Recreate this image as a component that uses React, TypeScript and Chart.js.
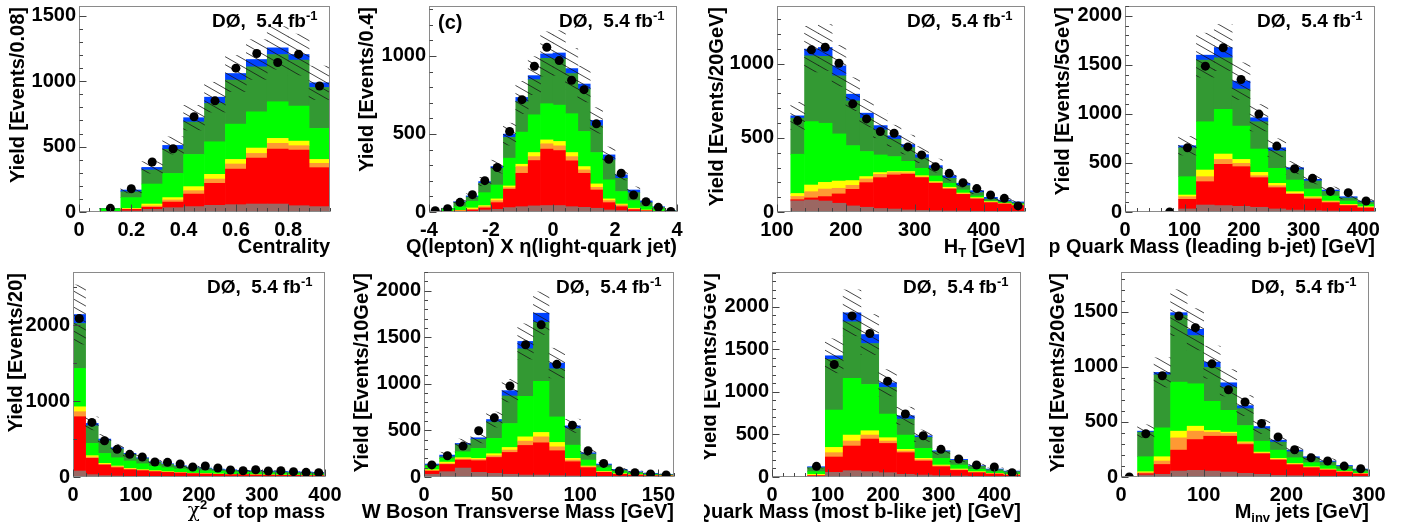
import React, { useEffect, useRef } from 'react';
import { Chart, registerables } from 'chart.js';

Chart.register(...registerables);

const SANS = '"Liberation Sans", Arial, Helvetica, sans-serif';
const SERIF = '"DejaVu Serif", "Liberation Serif", serif';

// Stack components, bottom to top
const COMP_NAMES = ['Dibosons + Z+jets', 'ttbar', 'W+cc', 'W+bb', 'W+lf', 'Multijets', 'tb+tqb'];
const COMP_COLORS = ['#9b6762', '#ff0000', '#ff9933', '#ffff00', '#00ff00', '#339933', '#0042ff'];

// ---------------- Panel 1: Centrality ----------------
const p1Centers = [0.04, 0.12, 0.2, 0.28, 0.36, 0.44, 0.52, 0.6, 0.68, 0.76, 0.84, 0.92];
const p1Brown = [0, 1, 8, 20, 33, 41, 51, 56, 61, 61, 48, 41];
const p1Red = [0, 2, 12, 16, 43, 96, 168, 272, 352, 420, 426, 298];
const p1Orange = [0, 1, 3, 10, 16, 26, 33, 39, 35, 44, 33, 33];
const p1Yellow = [0, 1, 5, 15, 18, 31, 36, 35, 41, 38, 35, 30];
const p1Green = [0, 19, 82, 153, 185, 246, 249, 270, 277, 280, 268, 237];
const p1DkGreen = [0, 3, 45, 107, 184, 248, 293, 336, 344, 361, 351, 313];
const p1Blue = [0, 1, 13, 20, 30, 33, 48, 51, 56, 51, 43, 36];
const p1Data = [null, 28, 178, 382, 484, 728, 850, 1100, 1212, 1143, 1207, 963];
const p1Unc = [0, 4, 22, 44, 66, 94, 114, 138, 152, 163, 157, 128];
const p1XTicks = [0, 0.2, 0.4, 0.6, 0.8];
const p1XLabels = ['0', '0.2', '0.4', '0.6', '0.8'];
const p1YTicks = [0, 500, 1000, 1500];
const p1YLabels = ['0', '500', '1000', '1500'];

// ---------------- Panel 2: Q(lepton) x eta ----------------
const p2Centers = [-3.8, -3.4, -3.0, -2.6, -2.2, -1.8, -1.4, -1.0, -0.6, -0.2, 0.2, 0.6, 1.0, 1.4, 1.8, 2.2, 2.6, 3.0, 3.4, 3.8];
const p2Brown = [0, 1, 3, 5, 13, 17, 28, 34, 39, 41, 41, 34, 30, 24, 13, 9, 5, 3, 1, 0];
const p2Red = [1, 1, 3, 8, 13, 43, 118, 214, 291, 362, 353, 294, 218, 117, 47, 25, 10, 5, 2, 1];
const p2Orange = [0, 1, 2, 5, 8, 13, 10, 43, 25, 34, 30, 27, 22, 17, 13, 11, 4, 2, 1, 0];
const p2Yellow = [0, 1, 2, 8, 7, 11, 11, 15, 26, 25, 28, 26, 21, 22, 11, 6, 5, 3, 1, 1];
const p2Green = [3, 13, 24, 43, 83, 89, 178, 206, 242, 232, 233, 249, 225, 201, 122, 80, 49, 21, 12, 3];
const p2DkGreen = [1, 6, 28, 27, 60, 107, 133, 195, 225, 291, 296, 257, 272, 171, 128, 85, 51, 26, 13, 2];
const p2Blue = [0, 1, 4, 7, 11, 11, 21, 27, 26, 28, 38, 32, 32, 35, 32, 22, 17, 11, 4, 1];
const p2Data = [8, 21, 62, 111, 201, 285, 516, 720, 934, 1056, 970, 844, 784, 565, 338, 248, 109, 66, 30, 4];
const p2Unc = [1, 3, 9, 14, 27, 41, 70, 103, 122, 142, 143, 129, 115, 82, 51, 33, 20, 10, 5, 1];
const p2XTicks = [-4, -2, 0, 2, 4];
const p2XLabels = ['-4', '-2', '0', '2', '4'];
const p2YTicks = [0, 500, 1000];
const p2YLabels = ['0', '500', '1000'];

// ---------------- Panel 3: H_T ----------------
const p3Centers = [130, 150, 170, 190, 210, 230, 250, 270, 290, 310, 330, 350, 370, 390, 410, 430, 450];
const p3Brown = [75, 81, 74, 59, 41, 32, 23, 20, 14, 11, 9, 7, 7, 5, 4, 3, 2];
const p3Red = [8, 14, 30, 63, 112, 166, 209, 230, 241, 221, 185, 148, 112, 83, 59, 51, 41];
const p3Orange = [22, 42, 51, 38, 27, 25, 22, 16, 9, 4, 4, 5, 3, 4, 3, 2, 2];
const p3Yellow = [20, 45, 45, 49, 32, 16, 12, 7, 9, 9, 7, 7, 6, 5, 4, 3, 3];
const p3Green = [265, 428, 399, 318, 236, 169, 119, 101, 69, 50, 38, 27, 21, 11, 4, 4, 6];
const p3DkGreen = [243, 444, 451, 392, 302, 225, 169, 117, 93, 70, 52, 33, 29, 23, 14, 9, 7];
const p3Blue = [16, 45, 60, 67, 45, 34, 29, 23, 20, 22, 18, 18, 16, 13, 11, 9, 7];
const p3Data = [617, 1094, 1112, 1004, 730, 628, 543, 531, 439, 385, 306, 261, 198, 158, 115, 92, 41];
const p3Unc = [91, 154, 155, 138, 111, 93, 82, 72, 64, 54, 44, 34, 27, 20, 14, 11, 10];
const p3XTicks = [100, 200, 300, 400];
const p3XLabels = ['100', '200', '300', '400'];
const p3YTicks = [0, 500, 1000];
const p3YLabels = ['0', '500', '1000'];

// ---------------- Panel 4: Top quark mass (leading b-jet) ----------------
const p4Centers = [15, 45, 75, 105, 135, 165, 195, 225, 255, 285, 315, 345, 375, 405];
const p4Brown = [0, 0, 0, 31, 71, 65, 58, 48, 31, 20, 14, 10, 7, 7];
const p4Red = [0, 0, 0, 98, 238, 421, 404, 302, 217, 160, 118, 85, 58, 34];
const p4Orange = [0, 0, 0, 27, 51, 50, 34, 20, 20, 10, 14, 10, 6, 7];
const p4Yellow = [0, 0, 0, 17, 68, 55, 40, 34, 24, 17, 10, 7, 7, 6];
const p4Green = [0, 0, 0, 187, 492, 455, 340, 238, 153, 119, 78, 51, 34, 24];
const p4DkGreen = [0, 0, 0, 295, 628, 526, 377, 278, 176, 105, 82, 47, 31, 24];
const p4Blue = [0, 0, 0, 21, 51, 105, 81, 41, 34, 21, 17, 14, 13, 10];
const p4Data = [null, null, 0, 655, 1487, 1674, 1351, 998, 672, 441, 343, 210, 197, 112];
const p4Unc = [0, 0, 0, 95, 224, 235, 187, 135, 92, 63, 47, 31, 22, 16];
const p4XTicks = [0, 100, 200, 300, 400];
const p4XLabels = ['0', '100', '200', '300', '400'];
const p4YTicks = [0, 500, 1000, 1500, 2000];
const p4YLabels = ['0', '500', '1000', '1500', '2000'];

// ---------------- Panel 5: chi2 of top mass ----------------
const p5Centers = [10, 30, 50, 70, 90, 110, 130, 150, 170, 190, 210, 230, 250, 270, 290, 310, 330, 350, 370, 390];
const p5Brown = [79, 31, 18, 13, 9, 8, 7, 6, 5, 5, 4, 4, 3, 3, 3, 3, 2, 2, 2, 2];
const p5Red = [715, 215, 140, 110, 87, 75, 63, 55, 48, 39, 35, 31, 28, 28, 23, 21, 20, 20, 16, 16];
const p5Orange = [66, 17, 9, 13, 9, 7, 6, 5, 4, 3, 3, 2, 2, 1, 2, 2, 2, 1, 2, 1];
const p5Yellow = [65, 18, 13, 9, 9, 6, 7, 4, 4, 3, 3, 3, 2, 2, 2, 2, 2, 2, 2, 2];
const p5Green = [505, 162, 131, 109, 97, 79, 62, 53, 44, 42, 38, 35, 31, 27, 27, 25, 22, 19, 17, 14];
const p5DkGreen = [592, 232, 167, 114, 87, 66, 48, 44, 35, 31, 27, 21, 22, 18, 18, 17, 18, 17, 18, 18];
const p5Blue = [118, 31, 22, 18, 13, 13, 9, 8, 9, 9, 8, 9, 8, 9, 8, 9, 9, 9, 9, 8];
const p5Data = [2088, 719, 478, 364, 298, 263, 197, 193, 171, 132, 145, 118, 92, 83, 96, 79, 83, 70, 61, 57];
const p5Unc = [390, 85, 60, 46, 37, 30, 24, 21, 18, 16, 14, 13, 12, 11, 10, 9, 9, 8, 8, 7];
const p5XTicks = [0, 100, 200, 300, 400];
const p5XLabels = ['0', '100', '200', '300', '400'];
const p5YTicks = [0, 1000, 2000];
const p5YLabels = ['0', '1000', '2000'];

// ---------------- Panel 6: W boson transverse mass ----------------
const p6Centers = [5, 15, 25, 35, 45, 55, 65, 75, 85, 95, 105, 115, 125, 135, 145, 155];
const p6Brown = [29, 57, 96, 50, 39, 29, 21, 21, 14, 11, 7, 4, 3, 2, 1, 1];
const p6Red = [35, 78, 86, 125, 171, 235, 318, 346, 268, 153, 93, 46, 26, 19, 13, 10];
const p6Orange = [4, 8, 11, 14, 18, 25, 46, 64, 42, 18, 9, 5, 3, 2, 1, 1];
const p6Yellow = [10, 17, 14, 11, 22, 28, 46, 47, 47, 18, 9, 5, 4, 2, 2, 1];
const p6Green = [40, 40, 64, 107, 164, 257, 435, 549, 274, 142, 64, 40, 21, 14, 8, 5];
const p6DkGreen = [10, 17, 75, 96, 178, 296, 510, 634, 517, 178, 64, 28, 18, 11, 7, 7];
const p6Blue = [11, 18, 14, 18, 25, 57, 79, 97, 61, 29, 14, 11, 7, 7, 7, 4];
const p6Data = [130, 228, 332, 496, 635, 977, 1419, 1633, 1209, 556, 282, 146, 64, 46, 32, 21];
const p6Unc = [18, 31, 47, 55, 80, 121, 189, 229, 159, 71, 34, 18, 11, 7, 5, 4];
const p6XTicks = [0, 50, 100, 150];
const p6XLabels = ['0', '50', '100', '150'];
const p6YTicks = [0, 500, 1000, 1500, 2000];
const p6YLabels = ['0', '500', '1000', '1500', '2000'];

// ---------------- Panel 7: Top quark mass (most b-like jet) ----------------
const p7Centers = [80, 112, 144, 176, 208, 240, 272, 304, 336, 368, 400, 432];
const p7Brown = [8, 55, 74, 63, 51, 31, 23, 16, 12, 8, 6, 5];
const p7Red = [8, 180, 290, 383, 344, 255, 165, 105, 66, 43, 29, 18];
const p7Orange = [4, 51, 59, 47, 28, 19, 16, 10, 8, 6, 4, 3];
const p7Yellow = [11, 62, 70, 51, 39, 20, 15, 10, 8, 6, 4, 3];
const p7Green = [32, 439, 666, 544, 278, 168, 118, 78, 47, 27, 20, 18];
const p7DkGreen = [47, 595, 665, 481, 313, 188, 129, 78, 55, 35, 23, 16];
const p7Blue = [11, 43, 106, 106, 55, 39, 19, 12, 11, 8, 8, 7];
const p7Data = [125, 1323, 1894, 1687, 1127, 740, 485, 325, 211, 141, 117, 51];
const p7Unc = [17, 200, 270, 235, 155, 101, 68, 43, 29, 19, 13, 10];
const p7XTicks = [0, 100, 200, 300, 400];
const p7XLabels = ['0', '100', '200', '300', '400'];
const p7YTicks = [0, 500, 1000, 1500, 2000];
const p7YLabels = ['0', '500', '1000', '1500', '2000'];

// ---------------- Panel 8: M_inv jets ----------------
const p8Centers = [10, 30, 50, 70, 90, 110, 130, 150, 170, 190, 210, 230, 250, 270, 290];
const p8Brown = [0, 18, 24, 54, 60, 54, 45, 33, 24, 15, 12, 9, 7, 5, 4];
const p8Red = [0, 12, 90, 190, 280, 316, 325, 262, 187, 139, 99, 75, 56, 40, 23];
const p8Orange = [0, 9, 31, 111, 76, 37, 25, 15, 6, 6, 6, 4, 4, 3, 3];
const p8Yellow = [0, 9, 39, 61, 45, 15, 12, 9, 9, 9, 6, 5, 5, 3, 3];
const p8Green = [0, 136, 262, 445, 385, 265, 198, 148, 99, 75, 52, 37, 30, 21, 15];
const p8DkGreen = [0, 223, 482, 603, 437, 307, 211, 153, 112, 72, 54, 42, 34, 24, 18];
const p8Blue = [0, 9, 21, 27, 57, 48, 39, 28, 21, 18, 15, 12, 9, 9, 6];
const p8Data = [0, 392, 919, 1461, 1355, 1027, 792, 681, 485, 364, 247, 175, 145, 99, 75];
const p8Unc = [0, 58, 133, 209, 188, 146, 120, 91, 64, 47, 34, 26, 20, 15, 10];
const p8XTicks = [0, 100, 200, 300];
const p8XLabels = ['0', '100', '200', '300'];
const p8YTicks = [0, 500, 1000, 1500];
const p8YLabels = ['0', '500', '1000', '1500'];

type Run = { t: string; size?: number; dy?: number; family?: string; weight?: string };

type PanelCfg = {
  centers: number[];
  comps: number[][];
  data: (number | null)[];
  unc: number[];
  xMin: number; xMax: number; yMax: number;
  xTicks: number[]; xLabels: string[]; xMinor: number;
  yTicks: number[]; yLabels: string[]; yMinor: number;
  xTitle: Run[]; yTitle: string; tag?: string;
};

const PANELS: PanelCfg[] = [
  { centers: p1Centers, comps: [p1Brown, p1Red, p1Orange, p1Yellow, p1Green, p1DkGreen, p1Blue], data: p1Data, unc: p1Unc,
    xMin: 0, xMax: 0.96, yMax: 1575, xTicks: p1XTicks, xLabels: p1XLabels, xMinor: 0.04, yTicks: p1YTicks, yLabels: p1YLabels, yMinor: 100,
    xTitle: [{ t: 'Centrality' }], yTitle: 'Yield [Events/0.08]' },
  { centers: p2Centers, comps: [p2Brown, p2Red, p2Orange, p2Yellow, p2Green, p2DkGreen, p2Blue], data: p2Data, unc: p2Unc,
    xMin: -4, xMax: 4, yMax: 1320, xTicks: p2XTicks, xLabels: p2XLabels, xMinor: 0.4, yTicks: p2YTicks, yLabels: p2YLabels, yMinor: 100,
    xTitle: [{ t: 'Q(lepton) X η(light-quark jet)' }], yTitle: 'Yield [Events/0.4]', tag: '(c)' },
  { centers: p3Centers, comps: [p3Brown, p3Red, p3Orange, p3Yellow, p3Green, p3DkGreen, p3Blue], data: p3Data, unc: p3Unc,
    xMin: 100, xMax: 460, yMax: 1390, xTicks: p3XTicks, xLabels: p3XLabels, xMinor: 20, yTicks: p3YTicks, yLabels: p3YLabels, yMinor: 100,
    xTitle: [{ t: 'H' }, { t: 'T', size: 13, dy: 6 }, { t: ' [GeV]' }], yTitle: 'Yield [Events/20GeV]' },
  { centers: p4Centers, comps: [p4Brown, p4Red, p4Orange, p4Yellow, p4Green, p4DkGreen, p4Blue], data: p4Data, unc: p4Unc,
    xMin: 0, xMax: 420, yMax: 2100, xTicks: p4XTicks, xLabels: p4XLabels, xMinor: 20, yTicks: p4YTicks, yLabels: p4YLabels, yMinor: 100,
    xTitle: [{ t: 'Top Quark Mass (leading b-jet) [GeV]' }], yTitle: 'Yield [Events/5GeV]' },
  { centers: p5Centers, comps: [p5Brown, p5Red, p5Orange, p5Yellow, p5Green, p5DkGreen, p5Blue], data: p5Data, unc: p5Unc,
    xMin: 0, xMax: 400, yMax: 2700, xTicks: p5XTicks, xLabels: p5XLabels, xMinor: 20, yTicks: p5YTicks, yLabels: p5YLabels, yMinor: 500,
    xTitle: [{ t: 'χ', family: SERIF, weight: 'normal' }, { t: '2', size: 13, dy: -7 }, { t: ' of top mass' }], yTitle: 'Yield [Events/20]' },
  { centers: p6Centers, comps: [p6Brown, p6Red, p6Orange, p6Yellow, p6Green, p6DkGreen, p6Blue], data: p6Data, unc: p6Unc,
    xMin: 0, xMax: 160, yMax: 2200, xTicks: p6XTicks, xLabels: p6XLabels, xMinor: 10, yTicks: p6YTicks, yLabels: p6YLabels, yMinor: 100,
    xTitle: [{ t: 'W Boson Transverse Mass [GeV]' }], yTitle: 'Yield [Events/10GeV]' },
  { centers: p7Centers, comps: [p7Brown, p7Red, p7Orange, p7Yellow, p7Green, p7DkGreen, p7Blue], data: p7Data, unc: p7Unc,
    xMin: 0, xMax: 448, yMax: 2410, xTicks: p7XTicks, xLabels: p7XLabels, xMinor: 20, yTicks: p7YTicks, yLabels: p7YLabels, yMinor: 100,
    xTitle: [{ t: 'Top Quark Mass (most b-like jet) [GeV]' }], yTitle: 'Yield [Events/5GeV]' },
  { centers: p8Centers, comps: [p8Brown, p8Red, p8Orange, p8Yellow, p8Green, p8DkGreen, p8Blue], data: p8Data, unc: p8Unc,
    xMin: 0, xMax: 300, yMax: 1860, xTicks: p8XTicks, xLabels: p8XLabels, xMinor: 20, yTicks: p8YTicks, yLabels: p8YLabels, yMinor: 100,
    xTitle: [{ t: 'M' }, { t: 'inv', size: 13, dy: 6 }, { t: ' jets [GeV]' }], yTitle: 'Yield [Events/20GeV]' },
];

// Page layout (canvas box + plot box, page pixels)
type Lay = { cx: number; cy: number; cw: number; ch: number; L: number; R: number; T: number; B: number; yTitleX: number };
const LAYOUT: Lay[] = [
  { cx: 0, cy: 0, cw: 352, ch: 265, L: 79, R: 330, T: 6, B: 212, yTitleX: 18 },
  { cx: 352, cy: 0, cw: 352, ch: 265, L: 429, R: 677, T: 6, B: 212, yTitleX: 367 },
  { cx: 704, cy: 0, cw: 352, ch: 265, L: 777, R: 1025, T: 6, B: 212, yTitleX: 717 },
  { cx: 1050, cy: 0, cw: 358, ch: 265, L: 1125, R: 1375, T: 6, B: 212, yTitleX: 1063 },
  { cx: 0, cy: 265, cw: 352, ch: 266, L: 73, R: 325, T: 272, B: 477, yTitleX: 16 },
  { cx: 352, cy: 265, cw: 352, ch: 266, L: 424, R: 674, T: 272, B: 477, yTitleX: 362 },
  { cx: 704, cy: 265, cw: 352, ch: 266, L: 772, R: 1021, T: 272, B: 477, yTitleX: 710 },
  { cx: 1036, cy: 265, cw: 372, ch: 266, L: 1121, R: 1369, T: 272, B: 477, yTitleX: 1058 },
];

function drawRuns(ctx: CanvasRenderingContext2D, runs: Run[], x: number, y: number, align: 'left' | 'right') {
  ctx.textBaseline = 'middle';
  ctx.textAlign = 'left';
  const fonts = runs.map((r) => `${r.weight ?? 'bold'} ${r.size ?? 20}px ${r.family ?? SANS}`);
  const widths = runs.map((r, i) => { ctx.font = fonts[i]; return ctx.measureText(r.t).width; });
  const total = widths.reduce((a, b) => a + b, 0);
  let px = align === 'right' ? x - total : x;
  runs.forEach((r, i) => {
    ctx.font = fonts[i];
    ctx.fillText(r.t, px, y + (r.dy ?? 0));
    px += widths[i];
  });
}

function makeHatch(ctx: CanvasRenderingContext2D): CanvasPattern | string {
  const c = document.createElement('canvas');
  const w = 14, h = 8;
  c.width = w; c.height = h;
  const g = c.getContext('2d');
  if (!g) return 'rgba(0,0,0,0.2)';
  g.strokeStyle = 'rgba(25,25,25,0.8)';
  g.lineWidth = 1;
  g.beginPath();
  for (const dy of [-h, 0, h]) {
    g.moveTo(-w, -h + dy);
    g.lineTo(2 * w, 2 * h + dy);
  }
  g.stroke();
  return ctx.createPattern(c, 'repeat') || 'rgba(0,0,0,0.2)';
}

function buildConfig(cfg: PanelCfg, lay: Lay, ctx: CanvasRenderingContext2D): any {
  const totals = cfg.centers.map((_, i) => cfg.comps.reduce((s, c) => s + c[i], 0));
  const hatch = makeHatch(ctx);
  const barCommon = { grouped: false, barPercentage: 1, categoryPercentage: 1, borderWidth: 0 };
  const datasets: any[] = [
    {
      type: 'scatter', label: 'Data',
      data: cfg.centers.map((x, i) => (cfg.data[i] == null ? null : { x, y: cfg.data[i] })).filter((p) => p !== null),
      pointRadius: 4.5, pointHoverRadius: 4.5, backgroundColor: '#000', borderColor: '#000', borderWidth: 0,
      order: 0, stack: 'data',
    },
    {
      type: 'bar', label: 'Uncertainty',
      data: cfg.centers.map((x, i) => ({ x, y: [totals[i] - cfg.unc[i], totals[i] + cfg.unc[i]] })),
      backgroundColor: hatch, ...barCommon, order: 1, stack: 'unc',
    },
    ...cfg.comps.map((comp, k) => ({
      type: 'bar', label: COMP_NAMES[k],
      data: cfg.centers.map((x, i) => ({ x, y: comp[i] })),
      backgroundColor: COMP_COLORS[k], ...barCommon, order: 2, stack: 'mc',
    })),
  ];

  const tickFont = { family: SANS, size: 20, weight: 'bold' as const };
  const zeroPad = (s: any) => { s.paddingLeft = 0; s.paddingRight = 0; s.paddingTop = 0; s.paddingBottom = 0; };

  const decor = {
    id: 'decor',
    afterDatasetsDraw(chart: any) {
      const c: CanvasRenderingContext2D = chart.ctx;
      const a = chart.chartArea;
      const xs = chart.scales.x;
      const ys = chart.scales.y;
      c.save();
      c.lineWidth = 1;
      c.strokeStyle = '#8a8a8a';
      const l = Math.round(a.left) + 0.5, r = Math.round(a.right) - 0.5;
      const t = Math.round(a.top) + 0.5, b = Math.round(a.bottom) - 0.5;
      c.strokeRect(l, t, r - l, b - t);
      c.strokeStyle = '#444';
      c.beginPath();
      const nx0 = Math.ceil(cfg.xMin / cfg.xMinor - 1e-6);
      const nx1 = Math.floor(cfg.xMax / cfg.xMinor + 1e-6);
      for (let n = nx0; n <= nx1; n++) {
        const v = n * cfg.xMinor;
        const major = cfg.xTicks.some((tv) => Math.abs(tv - v) < 1e-6);
        const len = major ? 7 : 3.5;
        const px = Math.round(xs.getPixelForValue(v)) + 0.5;
        c.moveTo(px, b); c.lineTo(px, b - len);
      }
      const ny1 = Math.floor(cfg.yMax / cfg.yMinor + 1e-6);
      for (let n = 0; n <= ny1; n++) {
        const v = n * cfg.yMinor;
        const major = cfg.yTicks.some((tv) => Math.abs(tv - v) < 1e-6);
        const len = major ? 7 : 3.5;
        const py = Math.round(ys.getPixelForValue(v)) + 0.5;
        c.moveTo(l, py); c.lineTo(l + len, py);
      }
      c.stroke();
      c.restore();
    },
    afterDraw(chart: any) {
      const c: CanvasRenderingContext2D = chart.ctx;
      const a = chart.chartArea;
      c.save();
      c.fillStyle = '#000';
      // x-axis title, right aligned at the end of the axis
      drawRuns(c, cfg.xTitle, a.right, a.bottom + 35, 'right');
      // y-axis title, rotated, ending at the top of the axis
      c.save();
      c.translate(lay.yTitleX - lay.cx, a.top + 1);
      c.rotate(-Math.PI / 2);
      c.font = `bold 20px ${SANS}`;
      c.textAlign = 'right';
      c.textBaseline = 'middle';
      c.fillText(cfg.yTitle, 0, 0);
      c.restore();
      // experiment label
      drawRuns(c, [{ t: 'DØ,  5.4 fb', size: 19 }, { t: '-1', size: 13, dy: -6 }], a.right - 118, a.top + 16, 'left');
      if (cfg.tag) drawRuns(c, [{ t: cfg.tag }], a.left + 9, a.top + 17, 'left');
      c.restore();
    },
  };

  return {
    type: 'bar',
    data: { datasets },
    options: {
      animation: false,
      responsive: false,
      maintainAspectRatio: false,
      devicePixelRatio: 1,
      events: [],
      layout: { padding: { top: lay.T - lay.cy, right: lay.cx + lay.cw - lay.R, bottom: 0, left: 0 } },
      plugins: { legend: { display: false }, tooltip: { enabled: false }, title: { display: false } },
      scales: {
        x: {
          type: 'linear', position: 'bottom', min: cfg.xMin, max: cfg.xMax, offset: false,
          grid: { display: false, drawTicks: false }, border: { display: false },
          ticks: { autoSkip: false, maxRotation: 0, minRotation: 0, padding: 6, color: '#000', font: tickFont,
            callback: (_v: any, i: number) => cfg.xLabels[i] ?? '' },
          afterBuildTicks: (s: any) => { s.ticks = cfg.xTicks.map((v) => ({ value: v })); },
          afterFit: (s: any) => { s.height = lay.cy + lay.ch - lay.B; zeroPad(s); },
        },
        y: {
          type: 'linear', position: 'left', min: 0, max: cfg.yMax, stacked: true,
          grid: { display: false, drawTicks: false }, border: { display: false },
          ticks: { autoSkip: false, includeBounds: false, padding: 3, color: '#000', font: tickFont,
            callback: (_v: any, i: number) => cfg.yLabels[i] ?? '' },
          afterBuildTicks: (s: any) => { s.ticks = cfg.yTicks.map((v) => ({ value: v })); },
          afterFit: (s: any) => { s.width = lay.L - lay.cx; zeroPad(s); },
        },
      },
    },
    plugins: [decor],
  };
}

function Panel({ cfg, lay }: { cfg: PanelCfg; lay: Lay }) {
  const ref = useRef<HTMLCanvasElement>(null);
  useEffect(() => {
    const canvas = ref.current;
    if (!canvas) return;
    const ctx = canvas.getContext('2d');
    if (!ctx) return;
    const chart = new Chart(ctx, buildConfig(cfg, lay, ctx));
    return () => chart.destroy();
  }, [cfg, lay]);
  return (
    <canvas
      ref={ref}
      width={lay.cw}
      height={lay.ch}
      style={{ position: 'absolute', left: lay.cx, top: lay.cy, width: lay.cw, height: lay.ch, display: 'block' }}
    />
  );
}

export default function App() {
  return (
    <div style={{ position: 'absolute', left: 0, top: 0, width: 1408, height: 531, background: '#fff', overflow: 'hidden' }}>
      {PANELS.map((cfg, i) => (
        <Panel key={i} cfg={cfg} lay={LAYOUT[i]} />
      ))}
    </div>
  );
}
